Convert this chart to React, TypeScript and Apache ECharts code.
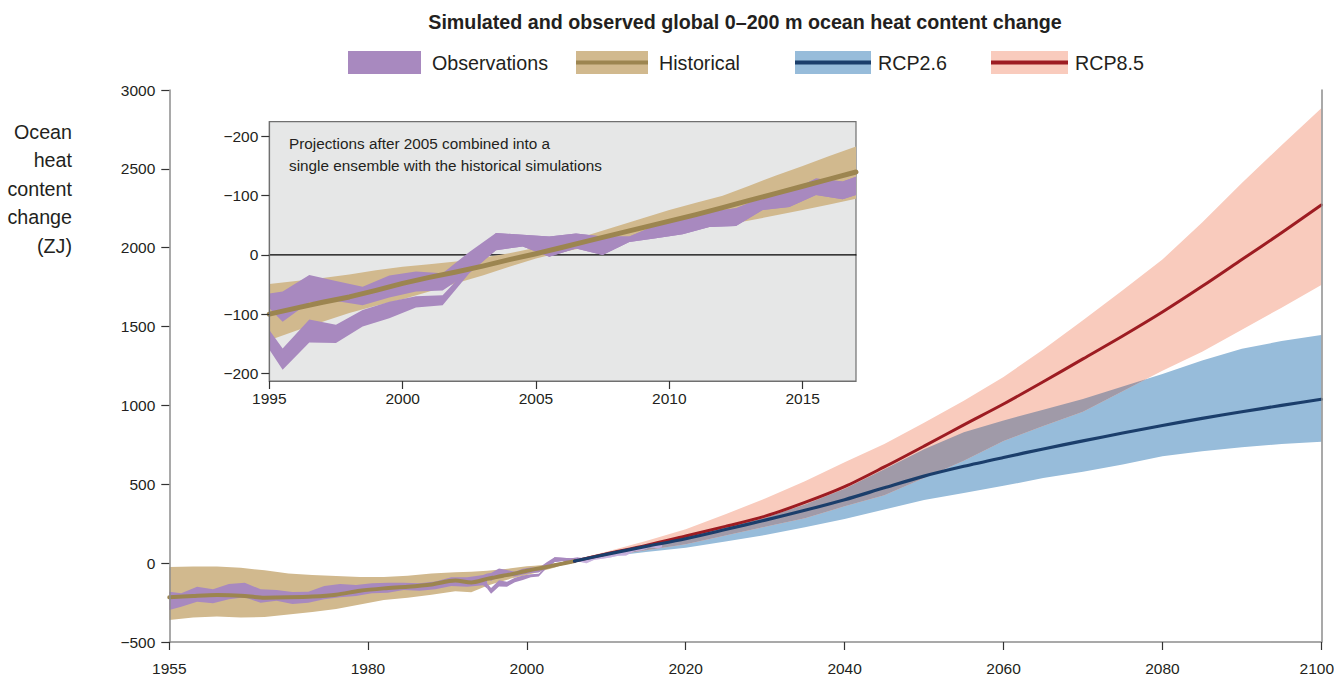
import React, { useEffect, useRef } from "react";
import * as echarts from "echarts";

const FONT = "'Liberation Sans', Arial, sans-serif";
const TXT = "#231f20";

// ---------- tick labels ----------
const X_TICKS = [1955, 1980, 2000, 2020, 2040, 2060, 2080, 2100];
const INSET_X_TICKS = [1995, 2000, 2005, 2010, 2015];
const INSET_Y_TICKS = [-200, -100, 0, 100, 200];

// ---------- historical simulations (ZJ) ----------
const histYears = [1955, 1958, 1961, 1964, 1967, 1970, 1973, 1976, 1979, 1982, 1985, 1988, 1991, 1993,
  1995, 1996, 1997, 1998, 1999, 2000, 2001, 2002, 2003, 2004, 2005, 2006, 2007, 2008, 2009, 2010,
  2011, 2012, 2013, 2014, 2015, 2016, 2017];
const histMean = [-217, -208, -202, -206, -219, -217, -212, -200, -175, -160, -150, -135, -110, -122,
  -100, -90, -80, -71, -60, -48, -38, -29, -19, -8, 2, 13, 24, 35, 46, 57, 68, 80, 92, 104, 116, 128, 140];
const histHigh = [-25, -22, -22, -30, -45, -65, -75, -82, -88, -88, -80, -65, -58, -55,
  -49, -44, -39, -33, -26, -20, -16, -11, -5, 3, 12, 22, 34, 48, 62, 76, 88, 100, 117, 134, 150, 167, 183];
const histLow = [-360, -345, -338, -344, -342, -325, -310, -290, -262, -234, -220, -200, -178, -185,
  -144, -128, -113, -98, -86, -75, -62, -48, -35, -20, -6, 5, 14, 22, 30, 38, 44, 50, 58, 67, 76, 85, 95];

// ---------- observations (ZJ) ----------
const obsEarlyYears = [1955, 1956.5, 1958.5, 1960.5, 1962.5, 1964.5, 1966.5, 1968.5, 1970.5, 1972.5, 1974.5,
  1976.5, 1978.5, 1980.5, 1982.5, 1984.5, 1986.5, 1988.5, 1990.5, 1992.5, 1994.5, 1995];
const obsEarlyHigh = [-181, -191, -149, -166, -132, -124, -166, -170, -183, -181, -145, -132, -139, -128,
  -124, -124, -128, -117, -90, -90, -75, -65];
const obsEarlyLow = [-297, -276, -244, -255, -229, -217, -251, -238, -259, -251, -229, -217, -208, -191,
  -187, -170, -175, -166, -145, -149, -140, -160];

const obsYears = [1995, 1995.5, 1996.5, 1997.5, 1998.5, 1999.5, 2000.5, 2001.5, 2002.5, 2003.5, 2004.5,
  2005.5, 2006.5, 2007.5, 2008.5, 2009.5, 2010.5, 2011.5, 2012.5, 2013.5, 2014.5, 2015.5, 2016.5, 2017];
const obsAHigh = [-65, -62, -34, -44, -54, -35, -28, -31, 5, 37, 34, 31, 36, 31, 31, 50, 65, 73, 79, 97, 107, 129, 124, 132];
const obsALow = [-90, -113, -80, -78, -85, -72, -62, -60, -30, 8, 14, -3, 11, 0, 22, 28, 35, 47, 49, 76, 81, 101, 94, 101];
const obsBHigh = [-127, -158, -109, -118, -93, -79, -70, -68, -20, 37, 34, 31, 36, 31, 31, 50, 65, 73, 79, 97, 107, 129, 124, 132];
const obsBLow = [-160, -194, -148, -149, -121, -107, -89, -85, -31, 8, 14, -3, 11, 0, 22, 28, 35, 47, 49, 76, 81, 101, 94, 101];

// ---------- projections (ZJ) ----------
const rcpYears = [2006, 2010, 2015, 2020, 2025, 2030, 2035, 2040, 2045, 2050, 2055, 2060, 2065, 2070, 2075,
  2080, 2085, 2090, 2095, 2100];
const rcp26Mean = [13, 56, 106, 155, 213, 273, 335, 402, 478, 552, 614, 670, 724, 775, 825, 873, 918, 960, 1000, 1039];
const rcp26High = [22, 68, 112, 166, 228, 288, 372, 472, 595, 722, 830, 905, 972, 1040, 1120, 1200, 1285, 1360, 1408, 1447];
const rcp26Low = [5, 40, 70, 97, 137, 178, 228, 280, 340, 400, 445, 490, 540, 580, 625, 677, 710, 735, 755, 770];
const rcp85Mean = [13, 58, 112, 172, 233, 298, 385, 485, 610, 742, 877, 1009, 1150, 1295, 1440, 1592, 1755, 1925, 2095, 2271];
const rcp85High = [22, 72, 140, 215, 310, 410, 520, 640, 755, 890, 1030, 1180, 1355, 1540, 1730, 1925, 2160, 2410, 2650, 2884];
const rcp85Low = [5, 42, 82, 120, 175, 230, 285, 360, 430, 540, 650, 775, 870, 960, 1090, 1220, 1340, 1480, 1620, 1764];

// ---------- colours ----------
const C_OBS = "#a889bf";
const C_OBS_LIGHT = "#c7afdc";
const C_TAN = "#d1b98e";
const C_HIST = "#9c8550";
const C_BLUE = "#97bcda";
const C_NAVY = "#1b3e6b";
const C_PINK = "#f9cbbd";
const C_RED = "#9d1c22";
const C_OVER = "#a09aa8";

type Axes = { x: number; y: number };
const MAIN: Axes = { x: 0, y: 0 };
const INSET: Axes = { x: 1, y: 2 };

function subset(xs: number[], arrs: number[][], from: number, to: number) {
  const idx = xs.map((x, i) => i).filter((i) => xs[i] >= from && xs[i] <= to);
  return [idx.map((i) => xs[i]), ...arrs.map((a) => idx.map((i) => a[i]))];
}

function band(xs: number[], lo: number[], hi: number[], color: string, ax: Axes, z: number, opacity = 1) {
  return {
    type: "custom",
    xAxisIndex: ax.x,
    yAxisIndex: ax.y,
    z,
    silent: true,
    data: [[xs[0], lo[0]]],
    renderItem: (params: any, api: any) => {
      const upper = xs.map((x, i) => api.coord([x, hi[i]]));
      const lower = xs.map((x, i) => api.coord([x, lo[i]])).reverse();
      return {
        type: "polygon",
        shape: { points: upper.concat(lower) },
        style: { fill: color, opacity },
      };
    },
  };
}

function line(xs: number[], ys: number[], color: string, width: number, ax: Axes, z: number, smooth: any = 0.3) {
  return {
    type: "line",
    xAxisIndex: ax.x,
    yAxisIndex: ax.y,
    z,
    silent: true,
    smooth,
    symbol: "none",
    data: xs.map((x, i) => [x, ys[i]]),
    lineStyle: { color, width, cap: "round", join: "round" },
  };
}

// overlap of the two projection ranges, with exact crossing points inserted
function overlap() {
  const xs: number[] = [], lo: number[] = [], hi: number[] = [];
  const L = rcpYears.map((_, i) => Math.max(rcp26Low[i], rcp85Low[i]));
  const H = rcpYears.map((_, i) => Math.min(rcp26High[i], rcp85High[i]));
  for (let i = 0; i < rcpYears.length; i++) {
    if (i > 0) {
      const d0 = H[i - 1] - L[i - 1], d1 = H[i] - L[i];
      if (d0 * d1 < 0) {
        const t = d0 / (d0 - d1);
        const x = rcpYears[i - 1] + t * (rcpYears[i] - rcpYears[i - 1]);
        const v = L[i - 1] + t * (L[i] - L[i - 1]);
        xs.push(x); lo.push(v); hi.push(v);
      }
    }
    xs.push(rcpYears[i]);
    lo.push(L[i]);
    hi.push(Math.max(H[i], L[i]));
  }
  return { xs, lo, hi };
}

const minus = (v: number) => (v < 0 ? "\u2212" + Math.abs(v) : String(v));

export default function App() {
  const ref = useRef<HTMLDivElement>(null);

  useEffect(() => {
    if (!ref.current) return;
    const chart = echarts.init(ref.current, undefined, { renderer: "svg" });

    const [hmX, hmMean, hmHigh, hmLow] = subset(histYears, [histMean, histHigh, histLow], 1955, 2006);
    const [hiX, hiMean, hiHigh, hiLow] = subset(histYears, [histMean, histHigh, histLow], 1995, 2017);
    const [oPreX, aPreH, aPreL, bPreH, bPreL] = subset(obsYears, [obsAHigh, obsALow, obsBHigh, obsBLow], 1995, 2006.5);
    const [oPostX, aPostH, aPostL, bPostH, bPostL] = subset(obsYears, [obsAHigh, obsALow, obsBHigh, obsBLow], 2006.5, 2017);
    const ov = overlap();

    const axisLabelBase = { color: TXT, fontFamily: FONT, fontSize: 15.5 };
    const gray = "#8c8c8c";
    const LEG = 19.7;
    const lastX = X_TICKS[X_TICKS.length - 1];

    const option: any = {
      animation: false,
      backgroundColor: "#ffffff",
      textStyle: { fontFamily: FONT },
      grid: [
        { left: 169.3, top: 90, width: 1152, height: 552, show: false, containLabel: false, outerBoundsMode: "none" },
        {
          left: 269.3, top: 121.7, width: 586.7, height: 259.3, show: true, containLabel: false, outerBoundsMode: "none",
          backgroundColor: "#e6e7e7", borderColor: "#707070", borderWidth: 1.2, z: 1,
        },
      ],
      xAxis: [
        {
          type: "value", gridIndex: 0, min: 1955, max: 2100, z: 20,
          axisLine: { show: true, onZero: false, lineStyle: { color: gray, width: 1.5 } },
          axisTick: { show: true, length: 8, customValues: X_TICKS, lineStyle: { color: "#333", width: 1.2 } },
          axisLabel: {
            ...axisLabelBase, customValues: X_TICKS, margin: 18,
            formatter: (v: number) => (v === lastX ? "{edge|" + v + "}" : String(v)),
            rich: { edge: { ...axisLabelBase, padding: [0, 9, 0, 0] } },
          },
          splitLine: { show: false },
        },
        {
          type: "value", gridIndex: 1, min: 1995, max: 2017, z: 20,
          axisLine: { show: true, onZero: false, lineStyle: { color: "#707070", width: 1.2 } },
          axisTick: { show: true, length: 8, customValues: INSET_X_TICKS, lineStyle: { color: "#333", width: 1.2 } },
          axisLabel: { ...axisLabelBase, customValues: INSET_X_TICKS, margin: 9, formatter: (v: number) => String(v) },
          splitLine: { show: false },
        },
      ],
      yAxis: [
        {
          type: "value", gridIndex: 0, min: -500, max: 3000, interval: 500, z: 20,
          axisLine: { show: true, onZero: false, lineStyle: { color: gray, width: 1.5 } },
          axisTick: { show: true, length: 8, lineStyle: { color: "#333", width: 1.2 } },
          axisLabel: { ...axisLabelBase, margin: 14, formatter: minus },
          splitLine: { show: false },
        },
        {
          type: "value", gridIndex: 0, position: "right", min: -500, max: 3000, interval: 500, z: 20,
          axisLine: { show: true, onZero: false, lineStyle: { color: gray, width: 1.5 } },
          axisTick: { show: false }, axisLabel: { show: false }, splitLine: { show: false },
        },
        {
          type: "value", gridIndex: 1, min: -213, max: 225, z: 20,
          axisLine: { show: true, onZero: false, lineStyle: { color: "#707070", width: 1.2 } },
          axisTick: { show: true, length: 8, customValues: INSET_Y_TICKS, lineStyle: { color: "#333", width: 1.2 } },
          axisLabel: {
            ...axisLabelBase, margin: 11, customValues: INSET_Y_TICKS,
            formatter: (v: number) => (v === 0 ? "0" : "\u2212" + Math.abs(v)),
          },
          splitLine: { show: false },
        },
      ],
      series: [
        // ---- main panel ----
        band(hmX, hmLow, hmHigh, C_TAN, MAIN, 3),
        band(obsEarlyYears, obsEarlyLow, obsEarlyHigh, C_OBS, MAIN, 4),
        band(oPreX, aPreL, aPreH, C_OBS, MAIN, 4),
        band(oPreX, bPreL, bPreH, C_OBS, MAIN, 4),
        band(rcpYears, rcp26Low, rcp26High, C_BLUE, MAIN, 5),
        band(rcpYears, rcp85Low, rcp85High, C_PINK, MAIN, 6),
        band(ov.xs, ov.lo, ov.hi, C_OVER, MAIN, 7),
        band(oPostX, aPostL, aPostH, C_OBS_LIGHT, MAIN, 8, 0.75),
        band(oPostX, bPostL, bPostH, C_OBS_LIGHT, MAIN, 8, 0.75),
        line(hmX, hmMean, C_HIST, 4, MAIN, 9),
        line(rcpYears, rcp85Mean, C_RED, 3, MAIN, 10),
        line(rcpYears, rcp26Mean, C_NAVY, 3.2, MAIN, 11),
        // ---- inset ----
        line([1995, 2017], [0, 0], "#000000", 1.2, INSET, 3, false),
        band(hiX, hiLow, hiHigh, C_TAN, INSET, 4),
        band(obsYears, obsALow, obsAHigh, C_OBS, INSET, 5),
        band(obsYears, obsBLow, obsBHigh, C_OBS, INSET, 5),
        line(hiX, hiMean, C_HIST, 5, INSET, 6, false),
      ],
      graphic: [
        {
          type: "text", x: 745, y: 22, z: 50,
          style: {
            text: "Simulated and observed global 0\u2013200 m ocean heat content change",
            fontFamily: FONT, fontSize: 19.7, fontWeight: "bold", fill: TXT,
            textAlign: "center", textVerticalAlign: "middle",
          },
        },
        {
          type: "text", x: 72, y: 117.5, z: 50,
          style: {
            text: "Ocean\nheat\ncontent\nchange\n(ZJ)",
            fontFamily: FONT, fontSize: 19.7, lineHeight: 28.5, fill: TXT,
            textAlign: "right", textVerticalAlign: "top",
          },
        },
        {
          type: "text", x: 289, y: 132, z: 50,
          style: {
            text: "Projections after 2005 combined into a\nsingle ensemble with the historical simulations",
            fontFamily: FONT, fontSize: 15.3, lineHeight: 22, fill: TXT,
            textAlign: "left", textVerticalAlign: "top",
          },
        },
        // legend
        { type: "rect", z: 50, shape: { x: 348, y: 51, width: 73, height: 23 }, style: { fill: C_OBS } },
        { type: "text", z: 50, x: 432, y: 62.5, style: { text: "Observations", fontFamily: FONT, fontSize: LEG, fill: TXT, textVerticalAlign: "middle" } },
        { type: "rect", z: 50, shape: { x: 576, y: 51, width: 72, height: 23 }, style: { fill: C_TAN } },
        { type: "line", z: 51, shape: { x1: 576, y1: 62.5, x2: 648, y2: 62.5 }, style: { stroke: C_HIST, lineWidth: 4 } },
        { type: "text", z: 50, x: 659, y: 62.5, style: { text: "Historical", fontFamily: FONT, fontSize: LEG, fill: TXT, textVerticalAlign: "middle" } },
        { type: "rect", z: 50, shape: { x: 795, y: 51, width: 76, height: 23 }, style: { fill: C_BLUE } },
        { type: "line", z: 51, shape: { x1: 795, y1: 62.5, x2: 871, y2: 62.5 }, style: { stroke: C_NAVY, lineWidth: 4 } },
        { type: "text", z: 50, x: 878, y: 62.5, style: { text: "RCP2.6", fontFamily: FONT, fontSize: LEG, fill: TXT, textVerticalAlign: "middle" } },
        { type: "rect", z: 50, shape: { x: 991, y: 51, width: 77, height: 23 }, style: { fill: C_PINK } },
        { type: "line", z: 51, shape: { x1: 991, y1: 62.5, x2: 1068, y2: 62.5 }, style: { stroke: C_RED, lineWidth: 4 } },
        { type: "text", z: 50, x: 1075, y: 62.5, style: { text: "RCP8.5", fontFamily: FONT, fontSize: LEG, fill: TXT, textVerticalAlign: "middle" } },
      ],
    };

    chart.setOption(option);
    return () => chart.dispose();
  }, []);

  return (
    <div
      ref={ref}
      style={{ position: "fixed", left: 0, top: 0, width: "1334px", height: "677px", background: "#ffffff" }}
    />
  );
}
